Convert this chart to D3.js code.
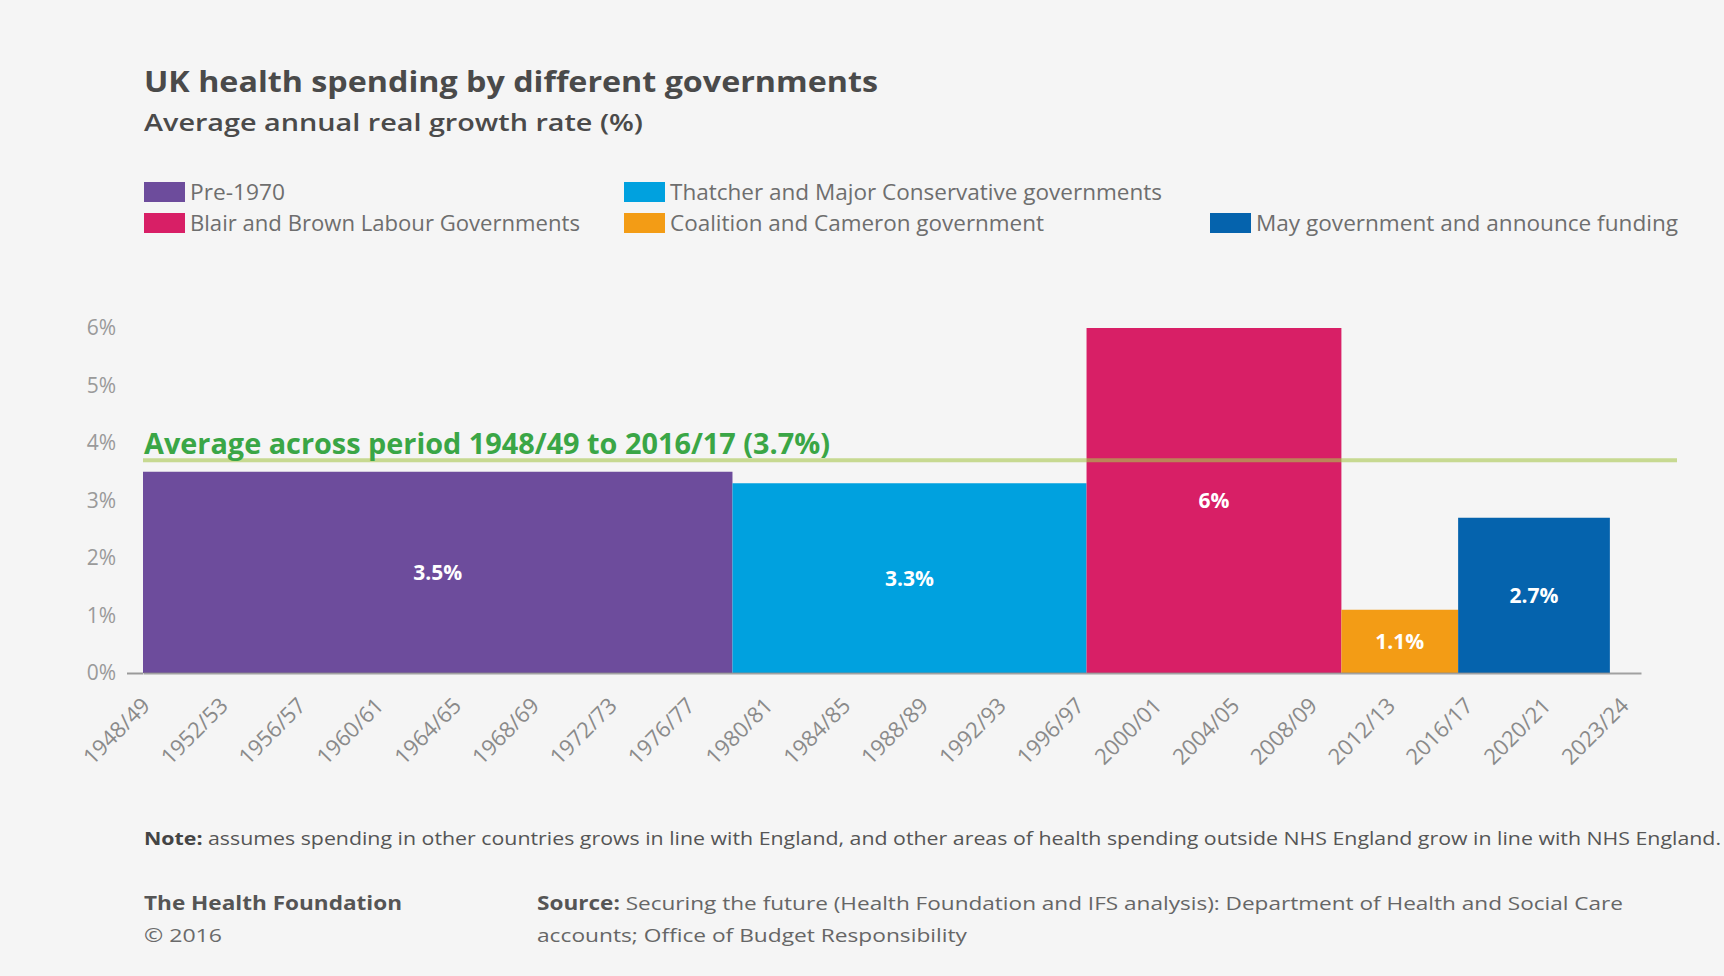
<!DOCTYPE html>
<html>
<head>
<meta charset="utf-8">
<script src="https://cdn.jsdelivr.net/npm/d3@7"></script>
<style>
  html, body { margin: 0; padding: 0; background: #f5f5f5; }
  svg { display: block; }
  text { font-family: "Open Sans", "Noto Sans", sans-serif; }
</style>
</head>
<body>
<svg id="chart" width="1724" height="976"></svg>
<script>
// Government periods, in legend order
const periods = [
  "Pre-1970",
  "Thatcher and Major Conservative governments",
  "Blair and Brown Labour Governments",
  "Coalition and Cameron government",
  "May government and announce funding"
];
// Start and end of each period, in (fiscal) years
const periodStart = [1948, 1978.3, 1996.5, 2009.6, 2015.6];
const periodEnd   = [1978.3, 1996.5, 2009.6, 2015.6, 2023.4];
// Average annual real growth rate (%)
const growthRate = [3.5, 3.3, 6, 1.1, 2.7];
const barLabels  = ["3.5%", "3.3%", "6%", "1.1%", "2.7%"];

const averageRate  = 3.7;
const averageLabel = "Average across period 1948/49 to 2016/17 (3.7%)";

const tickYears  = [1948, 1952, 1956, 1960, 1964, 1968, 1972, 1976, 1980, 1984,
                    1988, 1992, 1996, 2000, 2004, 2008, 2012, 2016, 2020, 2024];
const tickLabels = ["1948/49", "1952/53", "1956/57", "1960/61", "1964/65", "1968/69",
                    "1972/73", "1976/77", "1980/81", "1984/85", "1988/89", "1992/93",
                    "1996/97", "2000/01", "2004/05", "2008/09", "2012/13", "2016/17",
                    "2020/21", "2023/24"];
const yTicks      = [0, 1, 2, 3, 4, 5, 6];
const yTickLabels = ["0%", "1%", "2%", "3%", "4%", "5%", "6%"];

const colors = ["#6d4c9c", "#00a1df", "#d81f66", "#f39c15", "#0563ad"];

const svg = d3.select("#chart");

// Scales
const x = d3.scaleLinear().domain([1948, 2025]).range([143, 1641]);
const y = d3.scaleLinear().domain([0, 6]).range([673, 328]);
const plotRight = 1677;

// Title block
svg.append("text")
  .attr("x", 144).attr("y", 92)
  .attr("font-size", 28).attr("font-weight", 700).attr("fill", "#4a4a4a")
  .attr("textLength", 734).attr("lengthAdjust", "spacingAndGlyphs")
  .text("UK health spending by different governments");
svg.append("text")
  .attr("x", 144).attr("y", 131)
  .attr("font-size", 23).attr("font-weight", 600).attr("fill", "#4a4a4a")
  .attr("textLength", 499).attr("lengthAdjust", "spacingAndGlyphs")
  .text("Average annual real growth rate (%)");

// Legend (two rows, three columns)
const legendPos = [[144, 182], [624, 182], [144, 213], [624, 213], [1210, 213]];
const legendWidths = [95, 492, 390, 374, 422];
const legend = svg.append("g").selectAll("g")
  .data(periods)
  .join("g")
  .attr("transform", (d, i) => `translate(${legendPos[i][0]},${legendPos[i][1]})`);
legend.append("rect")
  .attr("width", 41).attr("height", 20)
  .attr("fill", (d, i) => colors[i]);
legend.append("text")
  .attr("x", 46).attr("y", 18)
  .attr("font-size", 21).attr("fill", "#6e6e6e")
  .attr("textLength", (d, i) => legendWidths[i]).attr("lengthAdjust", "spacingAndGlyphs")
  .text(d => d);

// Bars
const bars = svg.append("g");
bars.selectAll("rect")
  .data(growthRate)
  .join("rect")
  .attr("x", (d, i) => x(periodStart[i]))
  .attr("width", (d, i) => x(periodEnd[i]) - x(periodStart[i]))
  .attr("y", d => y(d))
  .attr("height", d => y(0) - y(d))
  .attr("fill", (d, i) => colors[i]);

bars.selectAll("text")
  .data(growthRate)
  .join("text")
  .attr("x", (d, i) => (x(periodStart[i]) + x(periodEnd[i])) / 2)
  .attr("y", d => (y(d) + y(0)) / 2)
  .attr("dy", "0.36em")
  .attr("text-anchor", "middle")
  .attr("font-size", 21).attr("font-weight", 700).attr("fill", "#ffffff")
  .text((d, i) => barLabels[i]);

// Y axis: labels only, with a tick at zero
const yAxis = svg.append("g")
  .attr("transform", `translate(${x(1948)},0)`)
  .call(d3.axisLeft(y).tickValues(yTicks).tickSize(16).tickPadding(11)
        .tickFormat((d, i) => yTickLabels[i]));
yAxis.select(".domain").remove();
yAxis.selectAll(".tick line")
  .attr("stroke", "#9a9a9a").attr("stroke-width", 2)
  .attr("opacity", d => d === 0 ? 1 : 0);
yAxis.selectAll(".tick text")
  .attr("font-family", "\"Open Sans\", sans-serif")
  .attr("font-size", 21).attr("fill", "#9a9a9a");

// X axis: baseline with rotated period labels
const xAxis = svg.append("g")
  .attr("transform", `translate(0,${y(0)})`)
  .call(d3.axisBottom(x).tickValues(tickYears).tickSize(0)
        .tickFormat((d, i) => tickLabels[i]));
xAxis.select(".domain")
  .attr("stroke", "#8c8c8c").attr("stroke-width", 2).attr("opacity", 0.8);
xAxis.selectAll(".tick text")
  .attr("font-family", "\"Open Sans\", sans-serif")
  .attr("font-size", 22).attr("fill", "#8a8a8a")
  .attr("text-anchor", "end")
  .attr("x", 0).attr("y", 0).attr("dy", 0)
  .attr("transform", "translate(8,34) rotate(-45)");

// Average line across the whole period
svg.append("line")
  .attr("x1", x(1948)).attr("x2", plotRight)
  .attr("y1", y(averageRate)).attr("y2", y(averageRate))
  .attr("stroke", "#a9c74f").attr("stroke-width", 4).attr("opacity", 0.6);
svg.append("text")
  .attr("x", 144).attr("y", y(averageRate) - 6)
  .attr("font-size", 28).attr("font-weight", 700).attr("fill", "#3aa646")
  .attr("textLength", 686).attr("lengthAdjust", "spacingAndGlyphs")
  .text(averageLabel);

// Footer notes
const note = svg.append("text")
  .attr("x", 144).attr("y", 845)
  .attr("font-size", 18).attr("fill", "#555")
  .attr("textLength", 1577).attr("lengthAdjust", "spacingAndGlyphs");
note.append("tspan").attr("font-weight", 700).attr("fill", "#444").text("Note:");
note.append("tspan").text(" assumes spending in other countries grows in line with England, and other areas of health spending outside NHS England grow in line with NHS England.");

svg.append("text")
  .attr("x", 144).attr("y", 910)
  .attr("font-size", 19).attr("font-weight", 700).attr("fill", "#555")
  .attr("textLength", 258).attr("lengthAdjust", "spacingAndGlyphs")
  .text("The Health Foundation");
svg.append("text")
  .attr("x", 144).attr("y", 942)
  .attr("font-size", 19).attr("fill", "#6a6a6a")
  .attr("textLength", 78).attr("lengthAdjust", "spacingAndGlyphs")
  .text("© 2016");

const source = svg.append("text")
  .attr("x", 537).attr("y", 910)
  .attr("font-size", 19).attr("fill", "#666")
  .attr("textLength", 1086).attr("lengthAdjust", "spacingAndGlyphs");
source.append("tspan").attr("font-weight", 700).attr("fill", "#555").text("Source:");
source.append("tspan").text(" Securing the future (Health Foundation and IFS analysis): Department of Health and Social Care");
svg.append("text")
  .attr("x", 537).attr("y", 942)
  .attr("font-size", 19).attr("fill", "#666")
  .attr("textLength", 430).attr("lengthAdjust", "spacingAndGlyphs")
  .text("accounts; Office of Budget Responsibility");
</script>
</body>
</html>
